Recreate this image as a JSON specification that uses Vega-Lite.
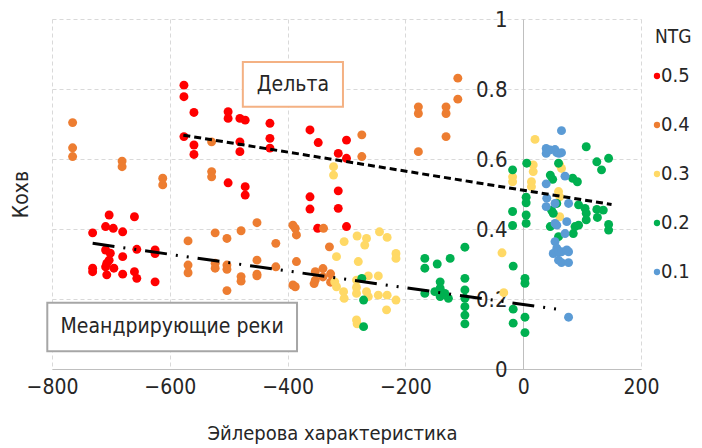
{
  "$schema": "https://vega.github.io/schema/vega-lite/v6.json",
  "width": 589,
  "height": 350,
  "autosize": {"type": "none"},
  "padding": {"left": 52, "top": 19, "right": 61, "bottom": 79},
  "background": "white",
  "config": {"font": "DejaVu Sans Condensed", "view": {"stroke": null}},
  "encoding": {
    "x": {"field": "x", "type": "quantitative",
      "scale": {"domain": [-800, 200], "nice": false, "zero": false},
      "axis": {"values": [-800, -600, -400, -200, 0, 200], "grid": true, "gridDash": [4, 3], "gridColor": "#d9d9d9",
        "domainColor": "#bfbfbf", "ticks": false, "labelPadding": 7, "labelFontSize": 21, "labelFlush": false,
        "labelColor": "#262626", "title": "Эйлерова характеристика", "titleFontSize": 20, "titleFontWeight": "normal",
        "titleX": 280, "titleY": 64, "titleBaseline": "middle", "titleAlign": "center", "titleColor": "#262626"}},
    "y": {"field": "y", "type": "quantitative",
      "scale": {"domain": [0, 1], "nice": false},
      "axis": {"offset": -471, "values": [0, 0.2, 0.4, 0.6, 0.8, 1], "format": ".1~f", "grid": true, "gridDash": [4, 3],
        "gridColor": "#d9d9d9", "domainColor": "#bfbfbf", "ticks": false, "labelPadding": 16, "labelFontSize": 22,
        "labelColor": "#262626", "title": "Кохв", "titleX": -502, "titleY": 175, "titleFontSize": 21,
        "titleFontWeight": "normal", "titleColor": "#262626", "titleBaseline": "middle", "titleAlign": "center", "titleAngle": -90}}
  },
  "layer": [
    {
      "data": {"values": [
        {"x": -576, "y": 0.811, "NTG": "0.5"}, {"x": -576, "y": 0.778, "NTG": "0.5"}, {"x": -559, "y": 0.733, "NTG": "0.5"},
        {"x": -576, "y": 0.664, "NTG": "0.5"}, {"x": -559, "y": 0.640, "NTG": "0.5"}, {"x": -559, "y": 0.613, "NTG": "0.5"},
        {"x": -501, "y": 0.735, "NTG": "0.5"}, {"x": -501, "y": 0.716, "NTG": "0.5"}, {"x": -481, "y": 0.716, "NTG": "0.5"},
        {"x": -472, "y": 0.711, "NTG": "0.5"}, {"x": -430, "y": 0.702, "NTG": "0.5"}, {"x": -481, "y": 0.649, "NTG": "0.5"},
        {"x": -481, "y": 0.621, "NTG": "0.5"}, {"x": -430, "y": 0.659, "NTG": "0.5"}, {"x": -430, "y": 0.631, "NTG": "0.5"},
        {"x": -501, "y": 0.532, "NTG": "0.5"}, {"x": -472, "y": 0.521, "NTG": "0.5"}, {"x": -472, "y": 0.497, "NTG": "0.5"},
        {"x": -362, "y": 0.683, "NTG": "0.5"}, {"x": -348, "y": 0.647, "NTG": "0.5"}, {"x": -300, "y": 0.654, "NTG": "0.5"},
        {"x": -314, "y": 0.616, "NTG": "0.5"}, {"x": -300, "y": 0.602, "NTG": "0.5"}, {"x": -362, "y": 0.492, "NTG": "0.5"},
        {"x": -362, "y": 0.457, "NTG": "0.5"}, {"x": -314, "y": 0.509, "NTG": "0.5"}, {"x": -314, "y": 0.459, "NTG": "0.5"},
        {"x": -349, "y": 0.402, "NTG": "0.5"}, {"x": -300, "y": 0.407, "NTG": "0.5"},
        {"x": -703, "y": 0.44, "NTG": "0.5"}, {"x": -660, "y": 0.435, "NTG": "0.5"}, {"x": -731, "y": 0.389, "NTG": "0.5"},
        {"x": -709, "y": 0.407, "NTG": "0.5"}, {"x": -696, "y": 0.402, "NTG": "0.5"}, {"x": -680, "y": 0.392, "NTG": "0.5"},
        {"x": -709, "y": 0.34, "NTG": "0.5"}, {"x": -701, "y": 0.331, "NTG": "0.5"}, {"x": -703, "y": 0.311, "NTG": "0.5"},
        {"x": -707, "y": 0.302, "NTG": "0.5"}, {"x": -680, "y": 0.321, "NTG": "0.5"}, {"x": -656, "y": 0.342, "NTG": "0.5"},
        {"x": -625, "y": 0.34, "NTG": "0.5"}, {"x": -625, "y": 0.33, "NTG": "0.5"}, {"x": -731, "y": 0.288, "NTG": "0.5"},
        {"x": -731, "y": 0.278, "NTG": "0.5"}, {"x": -709, "y": 0.292, "NTG": "0.5"}, {"x": -695, "y": 0.288, "NTG": "0.5"},
        {"x": -707, "y": 0.269, "NTG": "0.5"}, {"x": -680, "y": 0.271, "NTG": "0.5"}, {"x": -660, "y": 0.278, "NTG": "0.5"},
        {"x": -656, "y": 0.259, "NTG": "0.5"}, {"x": -625, "y": 0.249, "NTG": "0.5"},
        {"x": -765, "y": 0.704, "NTG": "0.4"}, {"x": -765, "y": 0.632, "NTG": "0.4"}, {"x": -765, "y": 0.607, "NTG": "0.4"},
        {"x": -681, "y": 0.594, "NTG": "0.4"}, {"x": -681, "y": 0.578, "NTG": "0.4"}, {"x": -612, "y": 0.545, "NTG": "0.4"},
        {"x": -612, "y": 0.526, "NTG": "0.4"}, {"x": -529, "y": 0.649, "NTG": "0.4"}, {"x": -529, "y": 0.564, "NTG": "0.4"},
        {"x": -529, "y": 0.549, "NTG": "0.4"}, {"x": -274, "y": 0.669, "NTG": "0.4"}, {"x": -274, "y": 0.607, "NTG": "0.4"},
        {"x": -178, "y": 0.749, "NTG": "0.4"}, {"x": -178, "y": 0.730, "NTG": "0.4"}, {"x": -178, "y": 0.621, "NTG": "0.4"},
        {"x": -131, "y": 0.749, "NTG": "0.4"}, {"x": -131, "y": 0.730, "NTG": "0.4"}, {"x": -131, "y": 0.664, "NTG": "0.4"},
        {"x": -111, "y": 0.831, "NTG": "0.4"}, {"x": -111, "y": 0.771, "NTG": "0.4"},
        {"x": -569, "y": 0.366, "NTG": "0.4"}, {"x": -569, "y": 0.297, "NTG": "0.4"}, {"x": -569, "y": 0.275, "NTG": "0.4"},
        {"x": -523, "y": 0.389, "NTG": "0.4"}, {"x": -503, "y": 0.373, "NTG": "0.4"}, {"x": -479, "y": 0.395, "NTG": "0.4"},
        {"x": -452, "y": 0.418, "NTG": "0.4"}, {"x": -523, "y": 0.302, "NTG": "0.4"}, {"x": -523, "y": 0.288, "NTG": "0.4"},
        {"x": -503, "y": 0.297, "NTG": "0.4"}, {"x": -503, "y": 0.285, "NTG": "0.4"}, {"x": -479, "y": 0.264, "NTG": "0.4"},
        {"x": -479, "y": 0.251, "NTG": "0.4"}, {"x": -452, "y": 0.311, "NTG": "0.4"}, {"x": -452, "y": 0.271, "NTG": "0.4"},
        {"x": -452, "y": 0.266, "NTG": "0.4"}, {"x": -503, "y": 0.224, "NTG": "0.4"}, {"x": -420, "y": 0.359, "NTG": "0.4"},
        {"x": -420, "y": 0.292, "NTG": "0.4"}, {"x": -391, "y": 0.411, "NTG": "0.4"}, {"x": -387, "y": 0.402, "NTG": "0.4"},
        {"x": -385, "y": 0.383, "NTG": "0.4"}, {"x": -385, "y": 0.307, "NTG": "0.4"}, {"x": -391, "y": 0.24, "NTG": "0.4"},
        {"x": -387, "y": 0.235, "NTG": "0.4"}, {"x": -339, "y": 0.402, "NTG": "0.4"}, {"x": -329, "y": 0.349, "NTG": "0.4"},
        {"x": -353, "y": 0.278, "NTG": "0.4"}, {"x": -353, "y": 0.254, "NTG": "0.4"}, {"x": -340, "y": 0.287, "NTG": "0.4"},
        {"x": -340, "y": 0.263, "NTG": "0.4"}, {"x": -327, "y": 0.272, "NTG": "0.4"}, {"x": -327, "y": 0.248, "NTG": "0.4"},
        {"x": -355, "y": 0.244, "NTG": "0.4"},
        {"x": -322, "y": 0.578, "NTG": "0.3"}, {"x": -322, "y": 0.554, "NTG": "0.3"}, {"x": -282, "y": 0.38, "NTG": "0.3"},
        {"x": -266, "y": 0.373, "NTG": "0.3"}, {"x": -269, "y": 0.354, "NTG": "0.3"}, {"x": -244, "y": 0.392, "NTG": "0.3"},
        {"x": -231, "y": 0.376, "NTG": "0.3"}, {"x": -216, "y": 0.33, "NTG": "0.3"}, {"x": -216, "y": 0.316, "NTG": "0.3"},
        {"x": -280, "y": 0.307, "NTG": "0.3"}, {"x": -263, "y": 0.266, "NTG": "0.3"}, {"x": -246, "y": 0.266, "NTG": "0.3"},
        {"x": -283, "y": 0.254, "NTG": "0.3"}, {"x": -283, "y": 0.233, "NTG": "0.3"}, {"x": -283, "y": 0.216, "NTG": "0.3"},
        {"x": -266, "y": 0.221, "NTG": "0.3"}, {"x": -263, "y": 0.207, "NTG": "0.3"}, {"x": -246, "y": 0.211, "NTG": "0.3"},
        {"x": -231, "y": 0.211, "NTG": "0.3"}, {"x": -216, "y": 0.197, "NTG": "0.3"}, {"x": -232, "y": 0.169, "NTG": "0.3"},
        {"x": -283, "y": 0.14, "NTG": "0.3"}, {"x": -282, "y": 0.129, "NTG": "0.3"}, {"x": -36, "y": 0.332, "NTG": "0.3"},
        {"x": -304, "y": 0.364, "NTG": "0.3"}, {"x": -317, "y": 0.321, "NTG": "0.3"}, {"x": -320, "y": 0.249, "NTG": "0.3"},
        {"x": -317, "y": 0.235, "NTG": "0.3"}, {"x": -305, "y": 0.221, "NTG": "0.3"}, {"x": -304, "y": 0.202, "NTG": "0.3"},
        {"x": -33, "y": 0.218, "NTG": "0.3"}, {"x": 20, "y": 0.656, "NTG": "0.3"}, {"x": 17, "y": 0.583, "NTG": "0.3"},
        {"x": 17, "y": 0.564, "NTG": "0.3"}, {"x": -18, "y": 0.549, "NTG": "0.3"}, {"x": -18, "y": 0.535, "NTG": "0.3"},
        {"x": 14, "y": 0.535, "NTG": "0.3"}, {"x": 14, "y": 0.521, "NTG": "0.3"}, {"x": 62, "y": 0.583, "NTG": "0.3"},
        {"x": 65, "y": 0.573, "NTG": "0.3"}, {"x": 60, "y": 0.507, "NTG": "0.3"}, {"x": 62, "y": 0.492, "NTG": "0.3"},
        {"x": 62, "y": 0.435, "NTG": "0.3"},
        {"x": -271, "y": 0.121, "NTG": "0.2"}, {"x": -274, "y": 0.259, "NTG": "0.2"}, {"x": -271, "y": 0.197, "NTG": "0.2"},
        {"x": -167, "y": 0.316, "NTG": "0.2"}, {"x": -167, "y": 0.288, "NTG": "0.2"}, {"x": -146, "y": 0.3, "NTG": "0.2"},
        {"x": -124, "y": 0.316, "NTG": "0.2"}, {"x": -99, "y": 0.348, "NTG": "0.2"}, {"x": -167, "y": 0.216, "NTG": "0.2"},
        {"x": -150, "y": 0.221, "NTG": "0.2"}, {"x": -141, "y": 0.249, "NTG": "0.2"}, {"x": -141, "y": 0.231, "NTG": "0.2"},
        {"x": -133, "y": 0.216, "NTG": "0.2"}, {"x": -141, "y": 0.207, "NTG": "0.2"}, {"x": -127, "y": 0.202, "NTG": "0.2"},
        {"x": -99, "y": 0.259, "NTG": "0.2"}, {"x": -99, "y": 0.226, "NTG": "0.2"}, {"x": -99, "y": 0.202, "NTG": "0.2"},
        {"x": -99, "y": 0.178, "NTG": "0.2"}, {"x": -99, "y": 0.154, "NTG": "0.2"}, {"x": -99, "y": 0.129, "NTG": "0.2"},
        {"x": -18, "y": 0.569, "NTG": "0.2"}, {"x": 6, "y": 0.588, "NTG": "0.2"}, {"x": 5, "y": 0.491, "NTG": "0.2"},
        {"x": 5, "y": 0.475, "NTG": "0.2"}, {"x": -18, "y": 0.45, "NTG": "0.2"}, {"x": 5, "y": 0.44, "NTG": "0.2"},
        {"x": 5, "y": 0.416, "NTG": "0.2"}, {"x": -18, "y": 0.41, "NTG": "0.2"}, {"x": -17, "y": 0.294, "NTG": "0.2"},
        {"x": 3, "y": 0.259, "NTG": "0.2"}, {"x": 3, "y": 0.245, "NTG": "0.2"}, {"x": -17, "y": 0.171, "NTG": "0.2"},
        {"x": -17, "y": 0.131, "NTG": "0.2"}, {"x": 3, "y": 0.148, "NTG": "0.2"}, {"x": 3, "y": 0.104, "NTG": "0.2"},
        {"x": 46, "y": 0.554, "NTG": "0.2"}, {"x": 50, "y": 0.542, "NTG": "0.2"}, {"x": 60, "y": 0.588, "NTG": "0.2"},
        {"x": 107, "y": 0.635, "NTG": "0.2"}, {"x": 125, "y": 0.592, "NTG": "0.2"}, {"x": 133, "y": 0.569, "NTG": "0.2"},
        {"x": 145, "y": 0.602, "NTG": "0.2"}, {"x": 84, "y": 0.545, "NTG": "0.2"}, {"x": 92, "y": 0.535, "NTG": "0.2"},
        {"x": 48, "y": 0.454, "NTG": "0.2"}, {"x": 51, "y": 0.445, "NTG": "0.2"}, {"x": 57, "y": 0.473, "NTG": "0.2"},
        {"x": 94, "y": 0.469, "NTG": "0.2"}, {"x": 105, "y": 0.459, "NTG": "0.2"}, {"x": 107, "y": 0.445, "NTG": "0.2"},
        {"x": 107, "y": 0.426, "NTG": "0.2"}, {"x": 125, "y": 0.456, "NTG": "0.2"}, {"x": 126, "y": 0.433, "NTG": "0.2"},
        {"x": 136, "y": 0.454, "NTG": "0.2"}, {"x": 145, "y": 0.413, "NTG": "0.2"}, {"x": 145, "y": 0.397, "NTG": "0.2"},
        {"x": 46, "y": 0.407, "NTG": "0.2"}, {"x": 88, "y": 0.407, "NTG": "0.2"}, {"x": 85, "y": 0.387, "NTG": "0.2"},
        {"x": 94, "y": 0.411, "NTG": "0.2"}, {"x": 60, "y": 0.378, "NTG": "0.2"},
        {"x": 65, "y": 0.681, "NTG": "0.1"}, {"x": 39, "y": 0.63, "NTG": "0.1"}, {"x": 39, "y": 0.616, "NTG": "0.1"},
        {"x": 46, "y": 0.626, "NTG": "0.1"}, {"x": 54, "y": 0.627, "NTG": "0.1"}, {"x": 57, "y": 0.618, "NTG": "0.1"},
        {"x": 61, "y": 0.616, "NTG": "0.1"}, {"x": 65, "y": 0.618, "NTG": "0.1"}, {"x": 71, "y": 0.551, "NTG": "0.1"},
        {"x": 39, "y": 0.529, "NTG": "0.1"}, {"x": 40, "y": 0.488, "NTG": "0.1"}, {"x": 39, "y": 0.464, "NTG": "0.1"},
        {"x": 54, "y": 0.473, "NTG": "0.1"}, {"x": 77, "y": 0.473, "NTG": "0.1"}, {"x": 54, "y": 0.416, "NTG": "0.1"},
        {"x": 74, "y": 0.421, "NTG": "0.1"}, {"x": 57, "y": 0.411, "NTG": "0.1"}, {"x": 71, "y": 0.387, "NTG": "0.1"},
        {"x": 54, "y": 0.364, "NTG": "0.1"}, {"x": 57, "y": 0.345, "NTG": "0.1"}, {"x": 51, "y": 0.33, "NTG": "0.1"},
        {"x": 60, "y": 0.335, "NTG": "0.1"}, {"x": 65, "y": 0.335, "NTG": "0.1"}, {"x": 74, "y": 0.34, "NTG": "0.1"},
        {"x": 77, "y": 0.335, "NTG": "0.1"}, {"x": 60, "y": 0.311, "NTG": "0.1"}, {"x": 65, "y": 0.304, "NTG": "0.1"},
        {"x": 77, "y": 0.304, "NTG": "0.1"}, {"x": 77, "y": 0.148, "NTG": "0.1"}
      ]},
      "mark": {"type": "circle", "size": 80, "opacity": 1},
      "encoding": {
        "color": {"field": "NTG", "type": "nominal",
          "scale": {"domain": ["0.5", "0.4", "0.3", "0.2", "0.1"], "range": ["#FF0000", "#ED7D31", "#FFD966", "#00B050", "#5B9BD5"]},
          "legend": {"orient": "none", "legendX": 603, "legendY": 9, "title": "NTG", "titleFontSize": 19, "titleFontWeight": "normal",
            "titleColor": "#262626", "titlePadding": 19, "labelFontSize": 20, "labelColor": "#262626", "symbolType": "circle",
            "symbolSize": 40, "symbolOffset": -8, "rowPadding": 29, "labelOffset": -6, "padding": 0}}
      }
    },
    {
      "data": {"values": [{"x": -577, "y": 0.668}, {"x": 150, "y": 0.47}]},
      "mark": {"type": "line", "color": "black", "strokeWidth": 3, "strokeDash": [7, 4]},
      "encoding": {}
    },
    {
      "data": {"values": [{"x": -731, "y": 0.359}, {"x": 65, "y": 0.169}]},
      "mark": {"type": "line", "color": "black", "strokeWidth": 3, "strokeDash": [22, 9, 2, 9, 2, 9]},
      "encoding": {}
    },
    {
      "data": {"values": [
        {"x": -476, "x2": -306, "y": 0.877, "y2": 0.749, "kind": "delta"},
        {"x": -808, "x2": -384, "y": 0.189, "y2": 0.051, "kind": "meander"}
      ]},
      "mark": {"type": "rect", "fill": "white", "strokeWidth": 2},
      "encoding": {
        "x2": {"field": "x2"},
        "y2": {"field": "y2"},
        "stroke": {"field": "kind", "type": "nominal", "scale": {"domain": ["delta", "meander"], "range": ["#F4B183", "#A6A6A6"]}, "legend": null}
      }
    },
    {
      "data": {"values": [
        {"x": -391, "y": 0.811, "label": "Дельта"},
        {"x": -596, "y": 0.12, "label": "Меандрирующие реки"}
      ]},
      "mark": {"type": "text", "fontSize": 21, "color": "#262626"},
      "encoding": {"text": {"field": "label"}}
    }
  ]
}
